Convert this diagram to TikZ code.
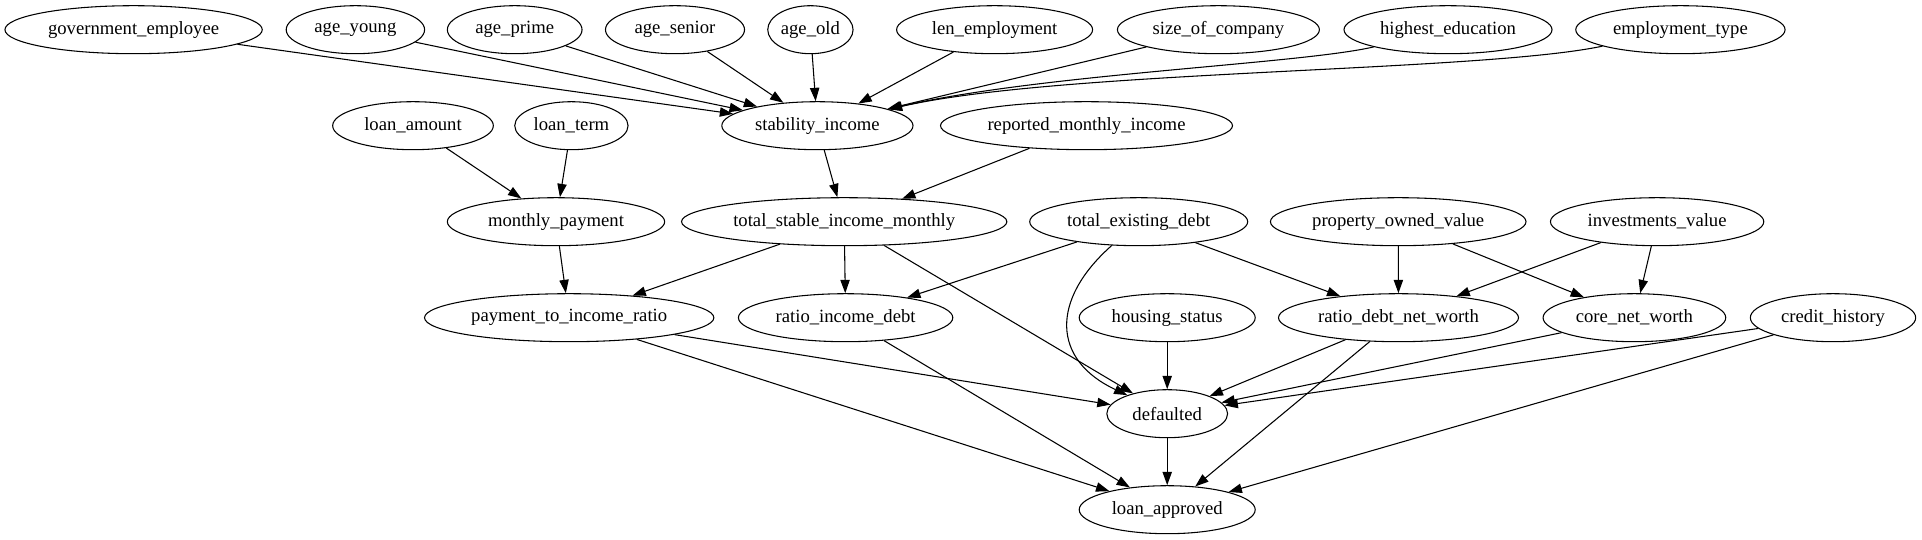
\documentclass[tikz,border=0pt]{standalone}
\usepackage{fontspec}
\setmainfont{Liberation Serif}
\usetikzlibrary{shapes.geometric,arrows.meta}
\begin{document}
\begin{tikzpicture}[x=0.75pt,y=-0.75pt,
  nd/.style={draw,ellipse,inner sep=0pt,minimum height=36pt,font=\fontsize{14}{16}\selectfont,line width=0.8pt},
  ed/.style={line width=0.8pt,-{Triangle[length=10pt,width=7pt]}}]
\useasboundingbox (0,0) rectangle (1922,539);
% row 1
\node[nd,minimum width=193pt] (ge) at (133.6,29.7) {government\_employee};
\node[nd,minimum width=103.8pt] (ay) at (355.4,29.7) {age\_young};
\node[nd,minimum width=101pt] (ap) at (514.7,29.7) {age\_prime};
\node[nd,minimum width=104.3pt] (as) at (675,29.7) {age\_senior};
\node[nd,minimum width=64pt] (ao) at (810.4,29.7) {age\_old};
\node[nd,minimum width=147pt] (le) at (994.6,29.7) {len\_employment};
\node[nd,minimum width=151.5pt] (sc) at (1218.4,29.7) {size\_of\_company};
\node[nd,minimum width=156pt] (he) at (1448,29.7) {highest\_education};
\node[nd,minimum width=157pt] (et) at (1680.4,29.7) {employment\_type};
% row 2
\node[nd,minimum width=120.5pt] (la) at (413,125.7) {loan\_amount};
\node[nd,minimum width=85pt] (lt) at (571.4,125.7) {loan\_term};
\node[nd,minimum width=143.4pt] (si) at (817.4,125.7) {stability\_income};
\node[nd,minimum width=219pt] (rmi) at (1086.5,125.7) {reported\_monthly\_income};
% row 3
\node[nd,minimum width=163pt] (mp) at (556,221.7) {monthly\_payment};
\node[nd,minimum width=244pt] (tsim) at (844.2,221.7) {total\_stable\_income\_monthly};
\node[nd,minimum width=163.5pt] (ted) at (1138.7,221.7) {total\_existing\_debt};
\node[nd,minimum width=191.7pt] (pov) at (1398.2,221.7) {property\_owned\_value};
\node[nd,minimum width=160pt] (iv) at (1657.1,221.7) {investments\_value};
% row 4
\node[nd,minimum width=217pt] (ptir) at (569.2,317.7) {payment\_to\_income\_ratio};
\node[nd,minimum width=160.8pt] (rid) at (845.6,317.7) {ratio\_income\_debt};
\node[nd,minimum width=132pt] (hs) at (1167.2,317.7) {housing\_status};
\node[nd,minimum width=180pt] (rdnw) at (1398.5,317.7) {ratio\_debt\_net\_worth};
\node[nd,minimum width=137pt] (cnw) at (1634.4,317.7) {core\_net\_worth};
\node[nd,minimum width=124pt] (ch) at (1833,317.7) {credit\_history};
% row 5, 6
\node[nd,minimum width=90.6pt] (def) at (1167.2,413.7) {defaulted};
\node[nd,minimum width=132pt] (lap) at (1167.2,509.7) {loan\_approved};
% edges
\draw[ed] (ge) -- (si);
\draw[ed] (ay) -- (si);
\draw[ed] (ap) -- (si);
\draw[ed] (as) -- (si);
\draw[ed] (ao) -- (si);
\draw[ed] (le) -- (si);
\draw[ed] (sc) -- (si);
\draw[ed] (he) .. controls (1300,64) and (1040,74) .. (si);
\draw[ed] (et) .. controls (1480,72) and (1060,70) .. (si);
\draw[ed] (la) -- (mp);
\draw[ed] (lt) -- (mp);
\draw[ed] (si) -- (tsim);
\draw[ed] (rmi) -- (tsim);
\draw[ed] (mp) -- (ptir);
\draw[ed] (tsim) -- (ptir);
\draw[ed] (tsim) -- (rid);
\draw[ed] (tsim) -- (def);
\draw[ed] (ted) -- (rid);
\draw[ed] (ted) .. controls (1050,300) and (1052,360) .. (def);
\draw[ed] (ted) -- (rdnw);
\draw[ed] (pov) -- (rdnw);
\draw[ed] (pov) -- (cnw);
\draw[ed] (iv) -- (rdnw);
\draw[ed] (iv) -- (cnw);
\draw[ed] (ptir) -- (def);
\draw[ed] (ptir) -- (lap);
\draw[ed] (rid) -- (lap);
\draw[ed] (hs) -- (def);
\draw[ed] (rdnw) -- (def);
\draw[ed] (rdnw) -- (lap);
\draw[ed] (cnw) -- (def);
\draw[ed] (ch) -- (def);
\draw[ed] (ch) -- (lap);
\draw[ed] (def) -- (lap);
\end{tikzpicture}
\end{document}
